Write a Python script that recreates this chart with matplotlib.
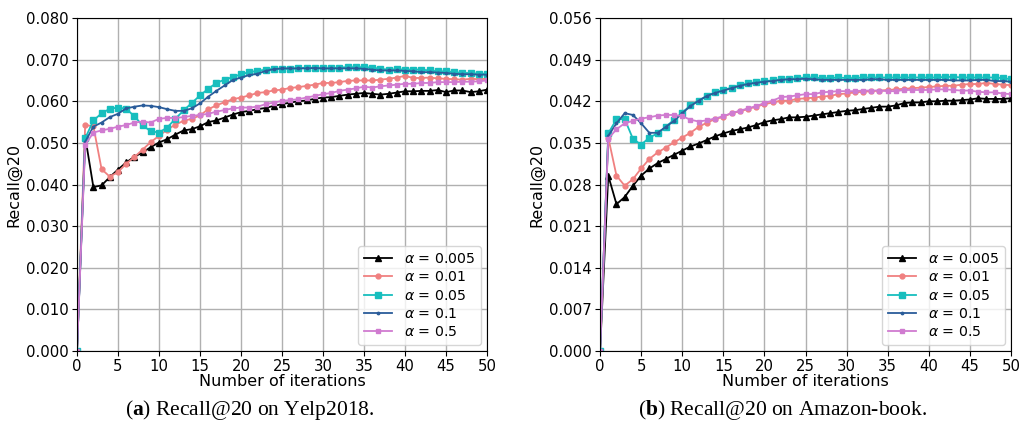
import numpy as np
import matplotlib
matplotlib.use("Agg")
import matplotlib.pyplot as plt

plt.rcParams['mathtext.fontset'] = 'custom'
plt.rcParams['mathtext.bf'] = 'Liberation Serif:bold'
plt.rcParams['mathtext.it'] = 'DejaVu Sans:italic'

iters = np.arange(0, 51)
labels = [r'$\alpha$ = 0.005', r'$\alpha$ = 0.01', r'$\alpha$ = 0.05', r'$\alpha$ = 0.1', r'$\alpha$ = 0.5']

# Yelp2018
yelp_0005 = [0, 0.0515, 0.0394, 0.0398, 0.0418, 0.0436, 0.0453, 0.0467, 0.0477, 0.0490, 0.0501,
             0.0509, 0.0520, 0.0530, 0.0533, 0.0540, 0.0550, 0.0554, 0.0561, 0.0568, 0.0574,
             0.0577, 0.0581, 0.0584, 0.0589, 0.0593, 0.0597, 0.0600, 0.0602, 0.0606, 0.0609,
             0.0610, 0.0613, 0.0616, 0.0618, 0.0620, 0.0618, 0.0616, 0.0618, 0.0621, 0.0624,
             0.0624, 0.0625, 0.0625, 0.0627, 0.0622, 0.0626, 0.0626, 0.0622, 0.0624, 0.0628]
yelp_001 = [0, 0.0543, 0.0540, 0.0437, 0.0419, 0.0430, 0.0450, 0.0466, 0.0484, 0.0502, 0.0517,
            0.0532, 0.0544, 0.0553, 0.0558, 0.0566, 0.0581, 0.0590, 0.0598, 0.0605, 0.0609,
            0.0614, 0.0620, 0.0622, 0.0626, 0.0628, 0.0632, 0.0634, 0.0637, 0.0640, 0.0644,
            0.0644, 0.0646, 0.0649, 0.0650, 0.0650, 0.0650, 0.0652, 0.0654, 0.0657, 0.0661,
            0.0656, 0.0656, 0.0657, 0.0655, 0.0654, 0.0653, 0.0652, 0.0654, 0.0653, 0.0654]
yelp_005 = [0, 0.0511, 0.0554, 0.0571, 0.0582, 0.0585, 0.0582, 0.0564, 0.0542, 0.0528, 0.0525,
            0.0537, 0.0558, 0.0578, 0.0596, 0.0614, 0.0630, 0.0644, 0.0652, 0.0658, 0.0665,
            0.0670, 0.0673, 0.0676, 0.0678, 0.0678, 0.0678, 0.0679, 0.0681, 0.0679, 0.0679,
            0.0679, 0.0681, 0.0682, 0.0682, 0.0682, 0.0681, 0.0678, 0.0676, 0.0677, 0.0676,
            0.0676, 0.0676, 0.0674, 0.0672, 0.0672, 0.0670, 0.0668, 0.0668, 0.0666, 0.0666]
yelp_01 = [0, 0.0503, 0.0539, 0.0549, 0.0562, 0.0570, 0.0583, 0.0587, 0.0590, 0.0589, 0.0586,
           0.0581, 0.0577, 0.0577, 0.0583, 0.0595, 0.0611, 0.0625, 0.0638, 0.0651, 0.0657,
           0.0663, 0.0666, 0.0673, 0.0677, 0.0679, 0.0679, 0.0679, 0.0679, 0.0680, 0.0679,
           0.0679, 0.0679, 0.0679, 0.0679, 0.0678, 0.0676, 0.0674, 0.0674, 0.0674, 0.0673,
           0.0672, 0.0670, 0.0670, 0.0669, 0.0668, 0.0666, 0.0665, 0.0665, 0.0664, 0.0664]
yelp_05 = [0, 0.0495, 0.0525, 0.0530, 0.0534, 0.0539, 0.0543, 0.0549, 0.0551, 0.0549, 0.0558,
           0.0560, 0.0560, 0.0562, 0.0565, 0.0567, 0.0570, 0.0575, 0.0579, 0.0583, 0.0585,
           0.0585, 0.0587, 0.0593, 0.0597, 0.0601, 0.0603, 0.0605, 0.0609, 0.0613, 0.0617,
           0.0620, 0.0625, 0.0628, 0.0631, 0.0635, 0.0633, 0.0636, 0.0638, 0.0640, 0.0642,
           0.0642, 0.0644, 0.0644, 0.0646, 0.0646, 0.0646, 0.0647, 0.0647, 0.0648, 0.0650]

# Amazon-book
amz_0005 = [0, 0.0295, 0.0247, 0.0259, 0.0278, 0.0295, 0.0307, 0.0316, 0.0323, 0.0330, 0.0337,
            0.0344, 0.0349, 0.0355, 0.0361, 0.0366, 0.0370, 0.0373, 0.0376, 0.0380, 0.0385,
            0.0388, 0.0390, 0.0393, 0.0393, 0.0394, 0.0396, 0.0398, 0.0400, 0.0402, 0.0404,
            0.0405, 0.0407, 0.0409, 0.0411, 0.0411, 0.0413, 0.0417, 0.0418, 0.0418, 0.0420,
            0.0420, 0.0421, 0.0421, 0.0422, 0.0423, 0.0425, 0.0424, 0.0424, 0.0424, 0.0425]
amz_001 = [0, 0.0359, 0.0295, 0.0278, 0.0289, 0.0307, 0.0323, 0.0334, 0.0342, 0.0351, 0.0359,
           0.0367, 0.0377, 0.0384, 0.0390, 0.0394, 0.0400, 0.0403, 0.0407, 0.0411, 0.0415,
           0.0418, 0.0421, 0.0421, 0.0424, 0.0425, 0.0426, 0.0428, 0.0429, 0.0432, 0.0433,
           0.0435, 0.0436, 0.0437, 0.0438, 0.0439, 0.0440, 0.0441, 0.0442, 0.0443, 0.0444,
           0.0445, 0.0446, 0.0446, 0.0448, 0.0449, 0.0449, 0.0451, 0.0449, 0.0448, 0.0447]
amz_005 = [0, 0.0366, 0.0390, 0.0390, 0.0357, 0.0347, 0.0359, 0.0366, 0.0377, 0.0389, 0.0401,
           0.0413, 0.0421, 0.0429, 0.0435, 0.0439, 0.0443, 0.0447, 0.0450, 0.0452, 0.0454,
           0.0455, 0.0457, 0.0457, 0.0459, 0.0460, 0.0460, 0.0459, 0.0459, 0.0460, 0.0459,
           0.0459, 0.0460, 0.0460, 0.0460, 0.0460, 0.0460, 0.0460, 0.0460, 0.0460, 0.0460,
           0.0460, 0.0461, 0.0461, 0.0460, 0.0460, 0.0460, 0.0460, 0.0460, 0.0459, 0.0457]
amz_01 = [0, 0.0362, 0.0383, 0.0400, 0.0397, 0.0383, 0.0367, 0.0367, 0.0377, 0.0387, 0.0400,
          0.0412, 0.0421, 0.0429, 0.0434, 0.0438, 0.0442, 0.0446, 0.0449, 0.0451, 0.0453,
          0.0454, 0.0456, 0.0457, 0.0457, 0.0458, 0.0457, 0.0456, 0.0456, 0.0456, 0.0456,
          0.0456, 0.0456, 0.0457, 0.0457, 0.0456, 0.0456, 0.0456, 0.0456, 0.0456, 0.0456,
          0.0456, 0.0456, 0.0455, 0.0455, 0.0455, 0.0456, 0.0456, 0.0454, 0.0454, 0.0453]
amz_05 = [0, 0.0357, 0.0373, 0.0383, 0.0387, 0.0391, 0.0393, 0.0396, 0.0397, 0.0397, 0.0395,
          0.0389, 0.0386, 0.0388, 0.0391, 0.0395, 0.0400, 0.0404, 0.0408, 0.0412, 0.0417,
          0.0421, 0.0427, 0.0428, 0.0430, 0.0432, 0.0432, 0.0435, 0.0436, 0.0437, 0.0437,
          0.0437, 0.0438, 0.0438, 0.0438, 0.0437, 0.0437, 0.0439, 0.0439, 0.0439, 0.0439,
          0.0440, 0.0440, 0.0439, 0.0438, 0.0438, 0.0436, 0.0435, 0.0435, 0.0433, 0.0432]

colors = ['black', '#F08080', '#17BEBE', '#2A5C9A', '#D07BD0']
markers = ['^', 'o', 's', '.', 's']
msizes = [4.5, 3.5, 4.5, 3.5, 3]

fig = plt.figure(figsize=(10.21, 4.34), dpi=100)
ax1 = fig.add_axes([0.0754, 0.191, 0.4016, 0.7675])
ax2 = fig.add_axes([0.5877, 0.191, 0.4025, 0.7675])

panels = [
    (ax1, [yelp_0005, yelp_001, yelp_005, yelp_01, yelp_05], 0.08, 0.01),
    (ax2, [amz_0005, amz_001, amz_005, amz_01, amz_05], 0.056, 0.007),
]
for ax, series, ymax, step in panels:
    for s, c, m, ms, lab in zip(series, colors, markers, msizes, labels):
        ax.plot(iters, s, color=c, marker=m, markersize=ms, linewidth=1.3, label=lab)
    ax.set_xlim(0, 50)
    ax.set_ylim(0, ymax)
    ax.set_xticks(np.arange(0, 51, 5))
    yt = np.arange(0, ymax + step / 2, step)
    ax.set_yticks(yt)
    ax.set_yticklabels(['%.3f' % v for v in yt])
    ax.tick_params(labelsize=10.7, pad=2.5)
    ax.grid(True, color='#b0b0b0', linewidth=1)
    ax.set_axisbelow(True)
    ax.set_xlabel('Number of iterations', fontsize=11.5, labelpad=0)
    ax.set_ylabel('Recall@20', fontsize=11.5, labelpad=3)
    ax.legend(loc='lower right', fontsize=10.2, handlelength=2, borderaxespad=0.45,
              labelspacing=0.3, handletextpad=0.8)

fig.text(0.245, 0.055, r'($\mathbf{a}$) Recall@20 on Yelp2018.', ha='center', va='center',
         fontsize=15.5, family='Liberation Serif')
fig.text(0.766, 0.055, r'($\mathbf{b}$) Recall@20 on Amazon-book.', ha='center', va='center',
         fontsize=15.5, family='Liberation Serif')

fig.savefig('out.png', dpi=100)
